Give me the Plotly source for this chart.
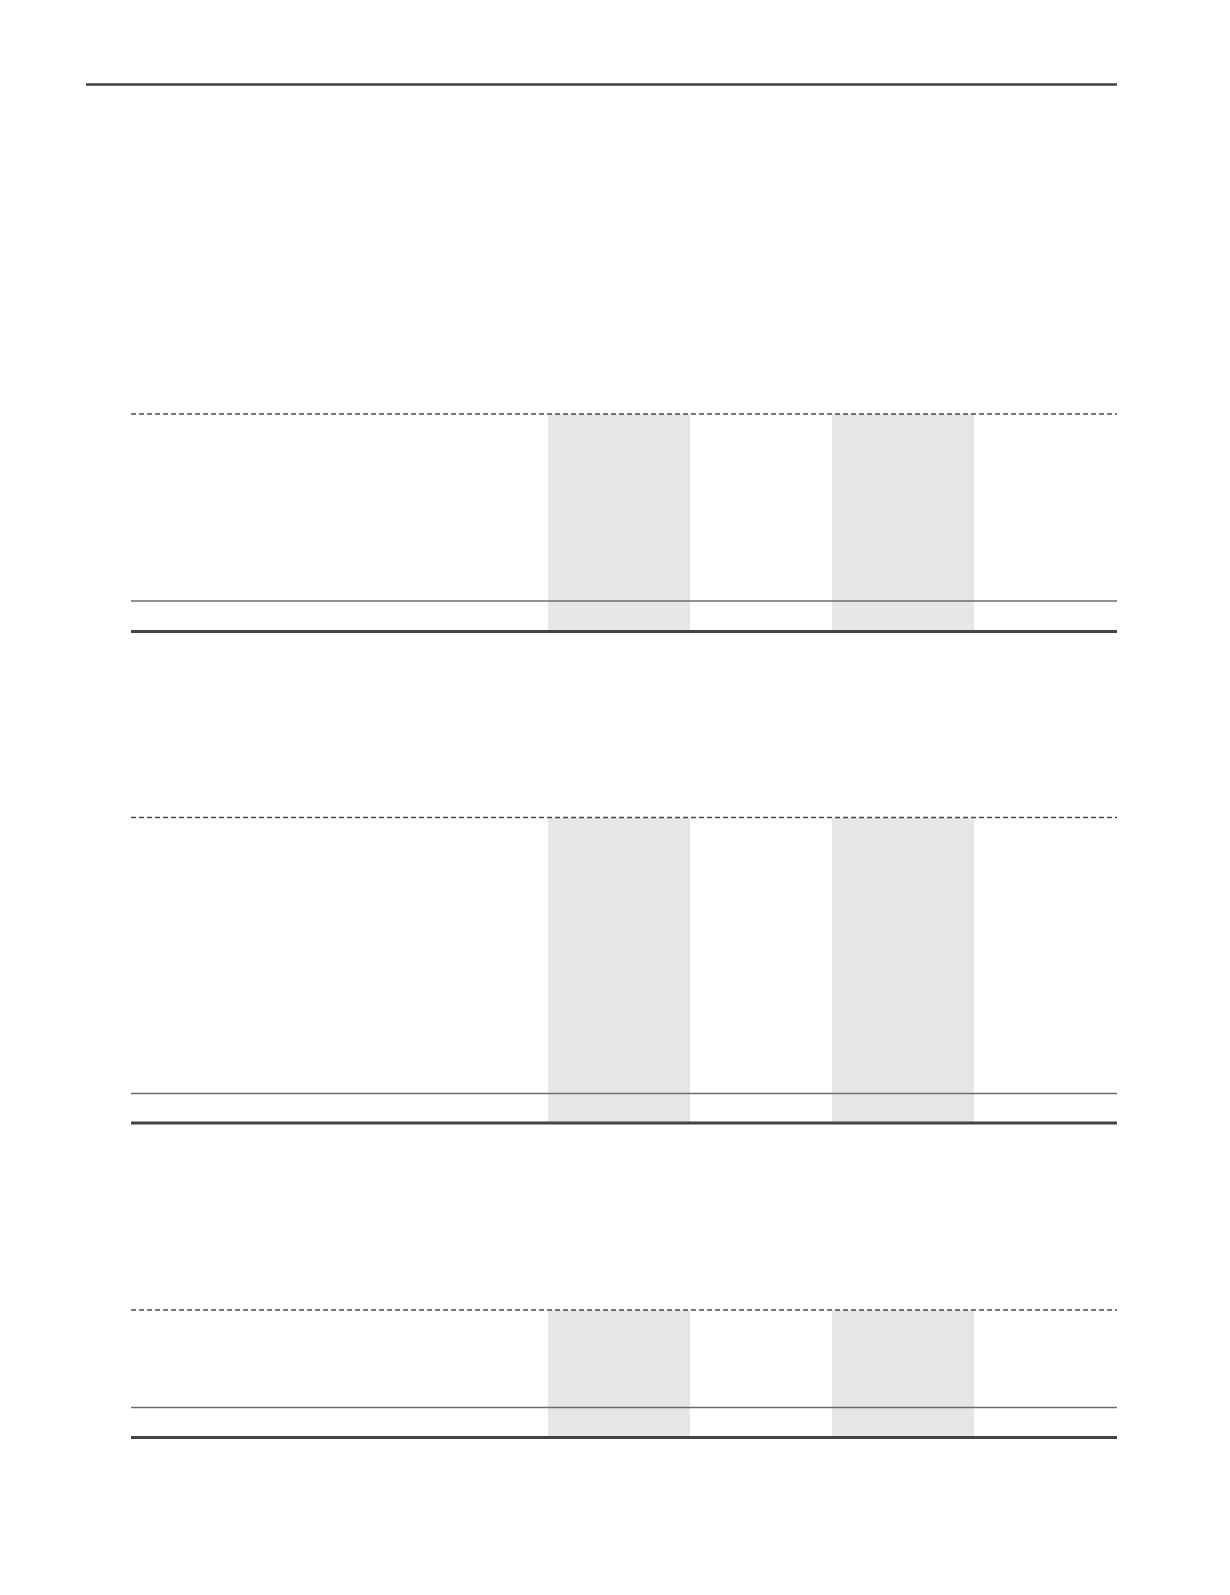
import plotly.graph_objects as go

# page skeleton of an empty financial table (units = page pixels)
top_rule_x = [86, 1117]
top_rule_y = 84.5

# three table blocks: header dashed rule, subtotal rule, closing rule
block_top = [414, 817.5, 1310]
block_subtotal = [601, 1093.5, 1407.5]
block_bottom = [631.5, 1123, 1437.5]

# column edges: label column, then four value columns
col_edges = [131, 547.5, 689.5, 831.5, 973.5, 1117]
shaded_cols = [1, 3]

GRAY = "#e5e6e8"
PAGE_W, PAGE_H = 1230, 1595
BODY_MARGIN = 8  # default html body margin around the plot div

fig = go.Figure()

# shaded value columns
for top, bottom in zip(block_top, block_bottom):
    for c in shaded_cols:
        left, right = col_edges[c], col_edges[c + 1]
        fig.add_trace(go.Bar(
            x=[(left + right) / 2], y=[bottom - top], base=[top],
            width=[right - left], marker=dict(color=GRAY, line=dict(width=0)),
            hoverinfo="skip", showlegend=False))

x0, x1 = col_edges[0], col_edges[-1]

# rules
fig.add_trace(go.Scatter(x=top_rule_x, y=[top_rule_y] * 2, mode="lines",
                         line=dict(color="#3f3f3f", width=2.5),
                         hoverinfo="skip", showlegend=False))
for top, sub, bottom in zip(block_top, block_subtotal, block_bottom):
    fig.add_trace(go.Scatter(x=[x0, x1], y=[top, top], mode="lines",
                             line=dict(color="#4a4a4a", width=1.3, dash="5px,3px"),
                             hoverinfo="skip", showlegend=False))
    fig.add_trace(go.Scatter(x=[x0, x1], y=[sub, sub], mode="lines",
                             line=dict(color="#6b6b6b", width=1.5),
                             hoverinfo="skip", showlegend=False))
    fig.add_trace(go.Scatter(x=[x0, x1], y=[bottom, bottom], mode="lines",
                             line=dict(color="#444444", width=3),
                             hoverinfo="skip", showlegend=False))

m = BODY_MARGIN
fig.update_layout(
    width=PAGE_W - 2 * m, height=PAGE_H - 2 * m,
    margin=dict(l=0, r=0, t=0, b=0),
    paper_bgcolor="white", plot_bgcolor="white",
    barmode="overlay", bargap=0,
    xaxis=dict(range=[m, PAGE_W - m], visible=False, fixedrange=True),
    yaxis=dict(range=[PAGE_H - m, m], visible=False, fixedrange=True),
)

fig.write_html("out.html")
